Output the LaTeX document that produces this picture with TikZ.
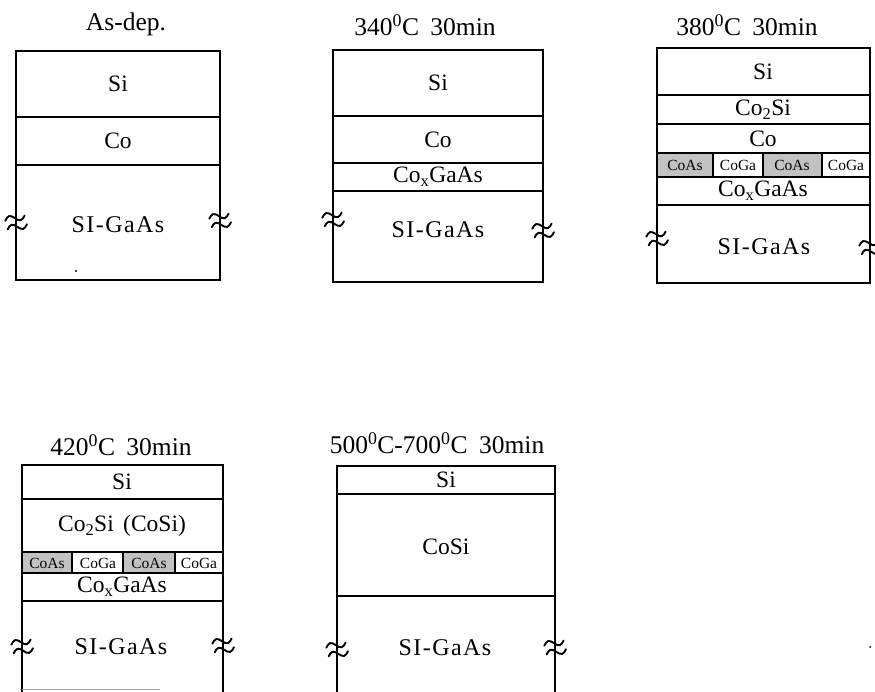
\documentclass[tikz,border=0pt]{standalone}
\usepackage{fontspec}
\setmainfont{Liberation Serif}
\begin{document}
\begin{tikzpicture}[x=1pt,y=-1pt,
  layer/.style={draw=black,line width=1.1pt},
  asfill/.style={draw=black,line width=1.1pt,fill=black!24},
  ttl/.style={font=\fontsize{25.5}{30}\selectfont,inner sep=0pt},
  lbl/.style={font=\fontsize{23.5}{27}\selectfont,inner sep=0pt},
  sml/.style={font=\fontsize{15.5}{18}\selectfont,inner sep=0pt},
  subst/.style={font=\fontsize{24}{28}\selectfont\addfontfeature{LetterSpace=6},inner sep=0pt},
  brk/.style={line width=1.9pt,line cap=round},
  wv/.pic={
    \draw[brk] (-10,-4) sin (-5,-7.5) cos (0,-4) sin (5,-0.5) cos (10,-4);
    \draw[brk] (-10,5) sin (-5,1.5) cos (0,5) sin (5,8.5) cos (10,5);
  }]
\useasboundingbox (0,0) rectangle (875,691);

% ---------- Panel 1: As-dep.
\node[ttl] (t1) at (126,24) {As-dep.};
\draw[layer] (16,51) rectangle (220,280);
\draw[layer] (16,117) -- (220,117);
\draw[layer] (16,165) -- (220,165);
\node[lbl] (p1si) at (118,84) {Si};
\node[lbl] (p1co) at (118,141) {Co};
\node[subst] (p1gaas) at (118,225) {SI-GaAs};
\pic[rotate=15] at (16,222) {wv};
\pic[rotate=15] at (220,220) {wv};
\fill (76,271) circle (1.1pt);

% ---------- Panel 2: 340C
\node[ttl] (t2) at (425,25) {340\textsuperscript{0}C\hspace{0.45em}30min};
\draw[layer] (333,50) rectangle (543,282);
\draw[layer] (333,116) -- (543,116);
\draw[layer] (333,163) -- (543,163);
\draw[layer] (333,191) -- (543,191);
\node[lbl] (p2si) at (438,83) {Si};
\node[lbl] (p2co) at (438,140) {Co};
\node[lbl] (p2cx) at (438,177) {Co\textsubscript{x}GaAs};
\node[subst] (p2gaas) at (438,230) {SI-GaAs};
\pic[rotate=15] at (333,219) {wv};
\pic[rotate=15] at (543,230) {wv};

% ---------- Panel 3: 380C
\node[ttl] (t3) at (747,25) {380\textsuperscript{0}C\hspace{0.45em}30min};
\draw[asfill] (657,153) rectangle (713,177);
\draw[asfill] (763,153) rectangle (822,177);
\draw[layer] (657,48) rectangle (870,283);
\draw[layer] (657,95) -- (870,95);
\draw[layer] (657,124) -- (870,124);
\draw[layer] (657,153) -- (870,153);
\draw[layer] (657,177) -- (870,177);
\draw[layer] (657,205) -- (870,205);
\draw[layer] (713,153) -- (713,177);
\draw[layer] (763,153) -- (763,177);
\draw[layer] (822,153) -- (822,177);
\node[lbl] (p3si) at (763,72) {Si};
\node[lbl] (p3c2s) at (763,110) {Co\textsubscript{2}Si};
\node[lbl] (p3co) at (763,139) {Co};
\node[sml] (p3a1) at (685,165) {CoAs};
\node[sml] (p3g1) at (738,165) {CoGa};
\node[sml] (p3a2) at (792,165) {CoAs};
\node[sml] (p3g2) at (846,165) {CoGa};
\node[lbl] (p3cx) at (763,191) {Co\textsubscript{x}GaAs};
\node[subst] (p3gaas) at (764,247) {SI-GaAs};
\pic[rotate=15] at (657,238) {wv};
\pic[rotate=15] at (870,247) {wv};

% ---------- Panel 4: 420C
\node[ttl] (t4) at (121,445) {420\textsuperscript{0}C\hspace{0.45em}30min};
\draw[asfill] (22,552) rectangle (72,573);
\draw[asfill] (123,552) rectangle (175,573);
\draw[layer] (22,692) -- (22,465) -- (223,465) -- (223,692);
\draw[layer] (22,499) -- (223,499);
\draw[layer] (22,552) -- (223,552);
\draw[layer] (22,573) -- (223,573);
\draw[layer] (22,601) -- (223,601);
\draw[layer] (72,552) -- (72,573);
\draw[layer] (123,552) -- (123,573);
\draw[layer] (175,552) -- (175,573);
\node[lbl] (p4si) at (122,482) {Si};
\node[lbl] (p4c2s) at (122,526) {Co\textsubscript{2}Si\hspace{0.4em}(CoSi)};
\node[sml] (p4a1) at (47,563) {CoAs};
\node[sml] (p4g1) at (98,563) {CoGa};
\node[sml] (p4a2) at (149,563) {CoAs};
\node[sml] (p4g2) at (199,563) {CoGa};
\node[lbl] (p4cx) at (122,587) {Co\textsubscript{x}GaAs};
\node[subst] (p4gaas) at (121,647) {SI-GaAs};
\pic[rotate=15] at (22,646) {wv};
\pic[rotate=15] at (223,645) {wv};
\draw[black!35,line width=1pt] (22,689) -- (160,689);

% ---------- Panel 5: 500-700C
\node[ttl] (t5) at (437,443) {500\textsuperscript{0}C-700\textsuperscript{0}C\hspace{0.45em}30min};
\draw[layer] (337,692) -- (337,466) -- (555,466) -- (555,692);
\draw[layer] (337,494) -- (555,494);
\draw[layer] (337,596) -- (555,596);
\node[lbl] (p5si) at (446,480) {Si};
\node[lbl] (p5cosi) at (446,547) {CoSi};
\node[subst] (p5gaas) at (445,648) {SI-GaAs};
\pic[rotate=15] at (337,649) {wv};
\pic[rotate=15] at (555,647) {wv};
\fill (870,647) circle (1pt);
\end{tikzpicture}
\end{document}
